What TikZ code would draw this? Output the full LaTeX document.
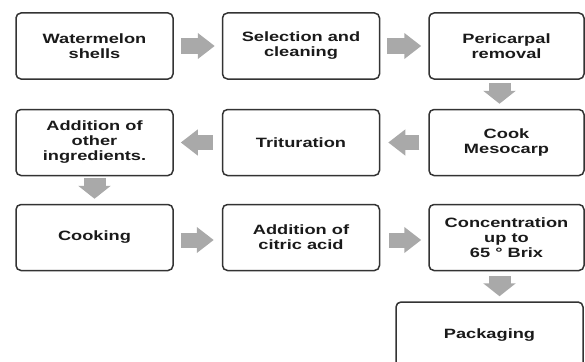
\documentclass[tikz,border=0pt]{standalone}
\usepackage{fontspec}
\newfontfamily\flowfont{Liberation Sans}[FakeStretch=1.35]
\usetikzlibrary{arrows.meta}

\definecolor{boxline}{HTML}{333333}
\definecolor{flowgray}{HTML}{A9A9A9}
\definecolor{boxtext}{HTML}{1A1A1A}

\begin{document}
\begin{tikzpicture}[x = 1pt, y = -1pt,
        stepbox/.style = {draw = boxline, line width = 1.5pt, rounded corners = 5pt,
            fill = white, text = boxtext, align = center, inner sep = 0pt,
            minimum width = 157pt, minimum height = 66pt,
            font = \flowfont\bfseries\fontsize{13.5}{15}\selectfont},
        hflow/.style = {draw = flowgray, line width = 15pt,
            -{Triangle[width = 25pt, length = 17pt]}},
        vflow/.style = {draw = flowgray, line width = 22pt,
            -{Triangle[width = 32pt, length = 13pt]}}]

        % Fix the size of the picture.
        \useasboundingbox (0, 0) rectangle (585, 361);

        % Positions for all of the boxes.
        \coordinate (P1) at (94.5, 46);
        \coordinate (P2) at (301, 46);
        \coordinate (P3) at (506.5, 46);
        \coordinate (P4) at (506.5, 142.5);
        \coordinate (P5) at (301, 142.5);
        \coordinate (P6) at (94.5, 142.5);
        \coordinate (P7) at (94.5, 237.5);
        \coordinate (P8) at (301, 237.5);
        \coordinate (P9) at (506.5, 237.5);
        \coordinate (P10) at (489.5, 335);

        % The steps of the process.
        \node (shells) at (P1) [stepbox] {Watermelon\\shells};
        \node (clean) at (P2) [stepbox] {Selection and\\cleaning};
        \node (peri) at (P3) [stepbox, minimum width = 155pt] {Pericarpal\\removal};
        \node (meso) at (P4) [stepbox, minimum width = 155pt] {Cook\\Mesocarp};
        \node (trit) at (P5) [stepbox] {Trituration};
        \node (other) at (P6) [stepbox] {Addition of\\other\\ingredients.};
        \node (cooking) at (P7) [stepbox] {Cooking};
        \node (citric) at (P8) [stepbox] {Addition of\\citric acid};
        \node (conc) at (P9) [stepbox, minimum width = 155pt] {Concentration\\up to\\65 ° Brix};
        \node (pack) at (P10) [stepbox, minimum width = 187pt] {Packaging};

        % First row, left to right.
        \draw [hflow, shorten < = 7pt, shorten > = 7pt] (shells) to (clean);
        \draw [hflow, shorten < = 7pt, shorten > = 7pt] (clean) to (peri);

        % Down to the second row.
        \draw [vflow, shorten < = 3pt, shorten > = 5pt]
            ([xshift = -7pt]peri.south) to ([xshift = -7pt]meso.north);

        % Second row, right to left.
        \draw [hflow, shorten < = 9pt, shorten > = 8pt] (meso) to (trit);
        \draw [hflow, shorten < = 9pt, shorten > = 7pt] (trit) to (other);

        % Down to the third row.
        \draw [vflow, shorten < = 2pt, shorten > = 5pt] (other) to (cooking);

        % Third row, left to right.
        \draw [hflow, shorten < = 7pt, shorten > = 8pt] ([yshift = -2.5pt]cooking.east) to ([yshift = -2.5pt]citric.west);
        \draw [hflow, shorten < = 9pt, shorten > = 7pt] ([yshift = -2.5pt]citric.east) to ([yshift = -2.5pt]conc.west);

        % Last step.
        \draw [vflow, shorten < = 5pt, shorten > = 5pt]
            ([xshift = -7pt]conc.south) to ([xshift = -7pt]conc.south |- pack.north);
    \end{tikzpicture}
\end{document}
